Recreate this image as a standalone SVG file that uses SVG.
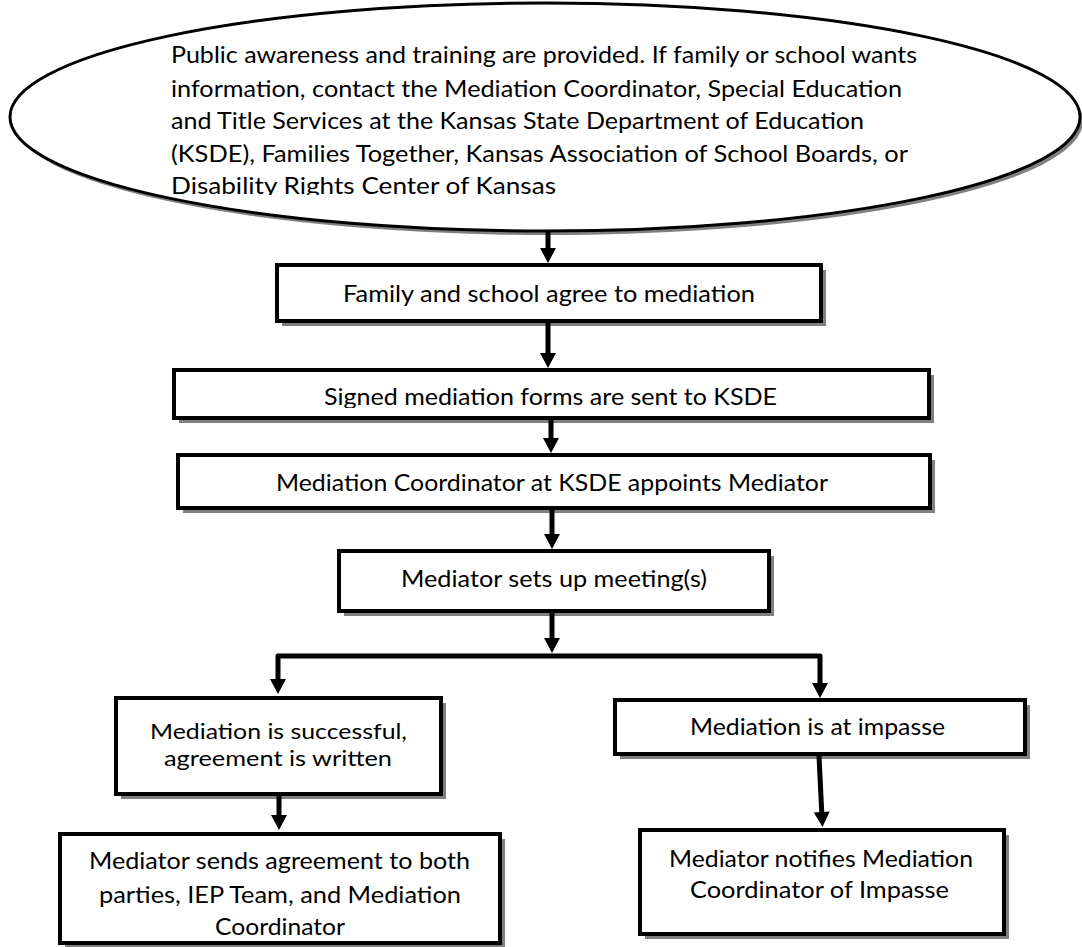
<svg xmlns="http://www.w3.org/2000/svg" width="1082" height="947" viewBox="0 0 1082 947">
<style>
text{font-family:Lato,"Open Sans","Liberation Sans",sans-serif;font-size:23px;fill:#000}
.tight{font-size:21.5px}
.box{fill:#fff;stroke:#000;stroke-width:4}
.sh{fill:#808080}
.con{fill:none;stroke:#000;stroke-width:5;stroke-linejoin:round}
</style>
<defs>
<marker id="ah" markerUnits="userSpaceOnUse" markerWidth="16" markerHeight="16" viewBox="0 0 15 16" refX="5" refY="8" orient="auto">
<path d="M0,0 L15,8 L0,16 Z" fill="#000"/>
</marker>
<clipPath id="clipE"><rect x="0" y="0" width="1082" height="195"/></clipPath>
<clipPath id="clipB2"><rect x="172" y="368" width="760" height="40"/></clipPath>
</defs>
<rect width="1082" height="947" fill="#fff"/>

<g id="n-awareness">
<ellipse class="sh" cx="548" cy="121" rx="535" ry="114"/>
<ellipse cx="545" cy="117" rx="535" ry="114" fill="#fff" stroke="#000" stroke-width="3"/>
<g clip-path="url(#clipE)">
<text x="171" y="63" textLength="746" lengthAdjust="spacingAndGlyphs">Public awareness and training are provided. If family or school wants</text>
<text x="171" y="96.5" textLength="731" lengthAdjust="spacingAndGlyphs">information, contact the Mediation Coordinator, Special Education</text>
<text x="171" y="129" textLength="693" lengthAdjust="spacingAndGlyphs">and Title Services at the Kansas State Department of Education</text>
<text x="171" y="161.5" textLength="737" lengthAdjust="spacingAndGlyphs">(KSDE), Families Together, Kansas Association of School Boards, or</text>
<text x="171" y="193.5" textLength="385" lengthAdjust="spacingAndGlyphs">Disability Rights Center of Kansas</text>
</g>
</g>

<g id="n-agree">
<rect class="sh" x="282" y="270" width="544" height="56"/>
<rect class="box" x="277" y="265" width="544" height="56"/>
<text x="343" y="302" textLength="412" lengthAdjust="spacingAndGlyphs">Family and school agree to mediation</text>
</g>

<g id="n-forms">
<rect class="sh" x="179" y="375" width="755" height="48"/>
<rect class="box" x="174" y="370" width="755" height="48"/>
<text x="324" y="405" textLength="453" lengthAdjust="spacingAndGlyphs" clip-path="url(#clipB2)">Signed mediation forms are sent to KSDE</text>
</g>

<g id="n-appoint">
<rect class="sh" x="183" y="460" width="752" height="53"/>
<rect class="box" x="178" y="455" width="752" height="53"/>
<text x="276" y="491" textLength="552" lengthAdjust="spacingAndGlyphs">Mediation Coordinator at KSDE appoints Mediator</text>
</g>

<g id="n-meeting">
<rect class="sh" x="344" y="556" width="430" height="60"/>
<rect class="box" x="339" y="551" width="430" height="60"/>
<text x="401" y="587" textLength="306" lengthAdjust="spacingAndGlyphs">Mediator sets up meeting(s)</text>
</g>

<g id="n-success">
<rect class="sh" x="121" y="703" width="325" height="96"/>
<rect class="box" x="116" y="698" width="325" height="96"/>
<text class="tight" x="150" y="739" textLength="257" lengthAdjust="spacingAndGlyphs">Mediation is successful,</text>
<text class="tight" x="164" y="766" textLength="228" lengthAdjust="spacingAndGlyphs">agreement is written</text>
</g>

<g id="n-sends">
<rect class="sh" x="65" y="839" width="440" height="109"/>
<rect class="box" x="60" y="834" width="440" height="109"/>
<text x="89" y="869" textLength="381" lengthAdjust="spacingAndGlyphs">Mediator sends agreement to both</text>
<text x="99" y="903" textLength="362" lengthAdjust="spacingAndGlyphs">parties, IEP Team, and Mediation</text>
<text x="215" y="935" textLength="130" lengthAdjust="spacingAndGlyphs">Coordinator</text>
</g>

<g id="n-impasse">
<rect class="sh" x="620" y="705" width="410" height="54"/>
<rect class="box" x="615" y="700" width="410" height="54"/>
<text x="690" y="735" textLength="255" lengthAdjust="spacingAndGlyphs">Mediation is at impasse</text>
</g>

<g id="n-notifies">
<rect class="sh" x="645" y="835" width="364" height="104"/>
<rect class="box" x="640" y="830" width="364" height="104"/>
<text x="669" y="867" textLength="304" lengthAdjust="spacingAndGlyphs">Mediator notifies Mediation</text>
<text x="690" y="898" textLength="259" lengthAdjust="spacingAndGlyphs">Coordinator of Impasse</text>
</g>

<g id="connectors">
<path class="con" d="M548,231 V253" marker-end="url(#ah)"/>
<path class="con" d="M548,323 V358" marker-end="url(#ah)"/>
<path class="con" d="M551,420 V443" marker-end="url(#ah)"/>
<path class="con" d="M552,510 V539" marker-end="url(#ah)"/>
<path class="con" d="M552,613 V643" marker-end="url(#ah)"/>
<path class="con" d="M552,656 H278 V684" stroke-width="6" marker-end="url(#ah)"/>
<path class="con" d="M552,656 H820 V688" stroke-width="6" marker-end="url(#ah)"/>
<path class="con" d="M279,796 V820" marker-end="url(#ah)"/>
<path class="con" d="M819,756 L822,817" marker-end="url(#ah)"/>
</g>
</svg>
